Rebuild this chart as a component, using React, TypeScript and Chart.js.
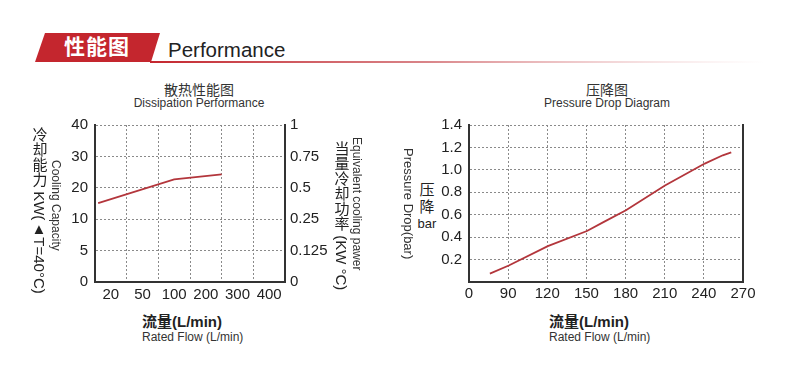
import React, { useEffect, useRef } from 'react';
import { Chart, registerables } from 'chart.js';

Chart.register(...registerables);

// ---------- data ----------
// Dissipation performance (left chart)
const dissFlowLabels = ['20', '50', '100', '200', '300', '400'];
const dissFlowTicks = [20, 50, 100, 200, 300, 400];
const dissCapTicks = [0, 5, 10, 20, 30, 40];
const dissCapLabels = ['0', '5', '10', '20', '30', '40'];
const dissPowerLabels = ['0', '0.125', '0.25', '0.5', '0.75', '1'];
const dissFlow = [8, 100, 250];
const dissCap = [15.1, 22.7, 24.3];

// Pressure drop (right chart)
const dropFlow = [76, 90.5, 120.4, 150.4, 163.4, 180.3, 210.2, 240.7, 254.5, 261];
const dropBar = [0.075, 0.147, 0.32, 0.455, 0.536, 0.64, 0.86, 1.056, 1.13, 1.155];
const dropXMin = 60; // first tick shown as "0" (broken axis)
const dropXMax = 270;
const dropXStep = 30;
const dropYMax = 1.4;
const dropYStep = 0.2;

// ---------- styles ----------
const LATIN = '"Liberation Sans", Arial, "Noto Sans CJK SC", sans-serif';
const CJK = '"Liberation Sans", "Noto Sans CJK SC", sans-serif';
const LINE = '#b3363c';
const GRID = '#8a8a8a';
const AXIS = '#333333';
const TXT = '#222222';
const RED = '#c4262e';

function piecewise(v: number, knots: number[], pos: number[]) {
  let i = 0;
  while (i < knots.length - 2 && v > knots[i + 1]) i++;
  const t = (v - knots[i]) / (knots[i + 1] - knots[i]);
  return pos[i] + t * (pos[i + 1] - pos[i]);
}
const flowToPos = (f: number) => piecewise(f, dissFlowTicks, dissFlowTicks.map((_, i) => i + 0.5));
const capToPos = (c: number) => piecewise(c, dissCapTicks, dissCapTicks.map((_, i) => i));

const tickFont = { family: LATIN, size: 15 };

function dissConfig(): any {
  return {
    type: 'line',
    data: {
      datasets: [
        {
          data: dissFlow.map((f, i) => ({ x: flowToPos(f), y: capToPos(dissCap[i]) })),
          xAxisID: 'xd',
          yAxisID: 'y',
          borderColor: LINE,
          borderWidth: 1.8,
          pointRadius: 0,
          tension: 0,
        },
      ],
    },
    options: {
      responsive: false,
      animation: false,
      events: [],
      layout: { padding: { top: 55, left: 0, right: 0, bottom: 0 } },
      plugins: { legend: { display: false }, tooltip: { enabled: false } },
      scales: {
        x: {
          type: 'category',
          labels: dissFlowLabels,
          position: 'bottom',
          offset: true,
          grid: { offset: true, color: GRID, lineWidth: 1, drawTicks: false },
          border: { color: AXIS, width: 2, dash: [2, 2] },
          ticks: { font: tickFont, color: TXT, padding: 4, maxRotation: 0, autoSkip: false },
          afterFit: (s: any) => { s.height = 28; },
        },
        xd: { type: 'linear', display: false, min: 0, max: dissFlowLabels.length },
        y: {
          type: 'linear',
          position: 'left',
          min: 0,
          max: dissCapTicks.length - 1,
          grid: { color: GRID, lineWidth: 1, drawTicks: false },
          border: { color: AXIS, width: 2, dash: [2, 2] },
          ticks: { stepSize: 1, font: tickFont, color: TXT, padding: 7, callback: (v: number) => dissCapLabels[v] },
          afterFit: (s: any) => { s.width = 95; },
        },
        y2: {
          type: 'linear',
          position: 'right',
          min: 0,
          max: dissPowerLabels.length - 1,
          grid: { display: false, drawTicks: false },
          border: { color: AXIS, width: 2 },
          ticks: { stepSize: 1, font: tickFont, color: TXT, padding: 5, callback: (v: number) => dissPowerLabels[v] },
          afterFit: (s: any) => { s.width = 115; },
        },
      },
    },
  };
}

function dropConfig(): any {
  return {
    type: 'line',
    data: {
      datasets: [
        {
          data: dropFlow.map((f, i) => ({ x: f, y: dropBar[i] })),
          borderColor: LINE,
          borderWidth: 1.8,
          pointRadius: 0,
          tension: 0,
        },
      ],
    },
    options: {
      responsive: false,
      animation: false,
      events: [],
      layout: { padding: { top: 55, left: 0, right: 0, bottom: 0 } },
      plugins: { legend: { display: false }, tooltip: { enabled: false } },
      scales: {
        x: {
          type: 'linear',
          position: 'bottom',
          min: dropXMin,
          max: dropXMax,
          grid: { color: GRID, lineWidth: 1, drawTicks: false },
          border: { color: AXIS, width: 2, dash: [2, 2] },
          ticks: {
            stepSize: dropXStep,
            font: tickFont,
            color: TXT,
            padding: 3,
            maxRotation: 0,
            callback: (v: number) => (v === dropXMin ? '0' : String(v)),
          },
          afterFit: (s: any) => { s.height = 28; },
        },
        y: {
          type: 'linear',
          position: 'left',
          min: 0,
          max: dropYMax,
          grid: { color: GRID, lineWidth: 1, drawTicks: false },
          border: { color: AXIS, width: 2, dash: [2, 2] },
          ticks: {
            stepSize: dropYStep,
            font: tickFont,
            color: TXT,
            padding: 7,
            callback: (v: number) => (Math.abs(v) < 1e-9 ? '' : v.toFixed(1)),
          },
          afterFit: (s: any) => { s.width = 69; },
        },
        y2: {
          type: 'linear',
          position: 'right',
          min: 0,
          max: dropYMax,
          grid: { display: false, drawTicks: false },
          border: { color: AXIS, width: 2 },
          ticks: { display: false },
          afterFit: (s: any) => { s.width = 57; },
        },
      },
    },
  };
}

function ChartBox({ config, left, top, width, height }: any) {
  const ref = useRef<HTMLCanvasElement>(null);
  useEffect(() => {
    const chart = new Chart(ref.current as HTMLCanvasElement, config());
    return () => chart.destroy();
  }, []);
  return (
    <canvas
      ref={ref}
      width={width}
      height={height}
      style={{ position: 'absolute', left, top, width, height }}
    />
  );
}

function VText({ text, cx, top, size, lh, color = TXT }: any) {
  return (
    <div
      style={{
        position: 'absolute',
        left: cx - lh / 2,
        top,
        width: lh,
        writingMode: 'vertical-rl',
        lineHeight: lh + 'px',
        fontSize: size,
        fontFamily: CJK,
        color,
        whiteSpace: 'nowrap',
      }}
    >
      {text}
    </div>
  );
}

export default function App() {
  return (
    <div
      style={{
        position: 'absolute',
        left: 0,
        top: 0,
        width: 800,
        height: 377,
        background: '#fff',
        overflow: 'hidden',
      }}
    >
      <svg width={800} height={377} style={{ position: 'absolute', left: 0, top: 0 }}>
        <defs>
          <linearGradient id="hl" x1="150" x2="765" y1="0" y2="0" gradientUnits="userSpaceOnUse">
            <stop offset="0" stopColor={RED} stopOpacity="1" />
            <stop offset="0.45" stopColor="#d0666b" stopOpacity="0.8" />
            <stop offset="1" stopColor="#e8b0b2" stopOpacity="0" />
          </linearGradient>
        </defs>
        <polygon points="45,33 160,33 151,62 35,62" fill={RED} />
        <rect x={150} y={61} width={615} height={2} fill="url(#hl)" />
        <text x={97} y={54} textAnchor="middle" fill="#fff" fontFamily={CJK} fontWeight="bold" fontSize={21} letterSpacing={1}>
          性能图
        </text>
        <text x={168} y={57} fill={TXT} fontFamily={LATIN} fontSize={20.5}>
          Performance
        </text>

        {/* left chart titles */}
        <text x={199} y={95} textAnchor="middle" fill="#333" fontFamily={CJK} fontSize={14}>
          散热性能图
        </text>
        <text x={199} y={107} textAnchor="middle" fill="#333" fontFamily={LATIN} fontSize={12}>
          Dissipation Performance
        </text>
        {/* right chart titles */}
        <text x={607} y={95} textAnchor="middle" fill="#333" fontFamily={CJK} fontSize={14}>
          压降图
        </text>
        <text x={607} y={107} textAnchor="middle" fill="#333" fontFamily={LATIN} fontSize={12}>
          Pressure Drop Diagram
        </text>

        {/* x axis titles */}
        <text x={142} y={327} fill={TXT} fontFamily={CJK} fontWeight="bold" fontSize={15}>
          流量(L/min)
        </text>
        <text x={142} y={341} fill="#333" fontFamily={LATIN} fontSize={12}>
          Rated Flow (L/min)
        </text>
        <text x={549} y={327} fill={TXT} fontFamily={CJK} fontWeight="bold" fontSize={15}>
          流量(L/min)
        </text>
        <text x={549} y={341} fill="#333" fontFamily={LATIN} fontSize={12}>
          Rated Flow (L/min)
        </text>

        {/* right chart y title */}
        <text x={427} y={195} textAnchor="middle" fill={TXT} fontFamily={CJK} fontSize={15}>
          压
        </text>
        <text x={427} y={212} textAnchor="middle" fill={TXT} fontFamily={CJK} fontSize={15}>
          降
        </text>
        <text x={427} y={228} textAnchor="middle" fill={TXT} fontFamily={LATIN} fontSize={13}>
          bar
        </text>
      </svg>

      <ChartBox config={dissConfig} left={0} top={70} width={400} height={240} />
      <ChartBox config={dropConfig} left={400} top={70} width={400} height={240} />

      <VText text="冷却能力 KW(▲T=40°C)" cx={39} top={127} size={15} lh={17} />
      <VText text="Cooling Capacity" cx={55} top={160} size={12} lh={13} color="#333" />
      <VText text="当量冷却功率 (KW °C)" cx={341} top={141} size={15} lh={17} />
      <VText text="Equivalent cooling pawer" cx={356} top={137} size={12} lh={13} color="#333" />
      <VText text="Pressure Drop(bar)" cx={408} top={148} size={13} lh={14} color="#333" />
    </div>
  );
}
